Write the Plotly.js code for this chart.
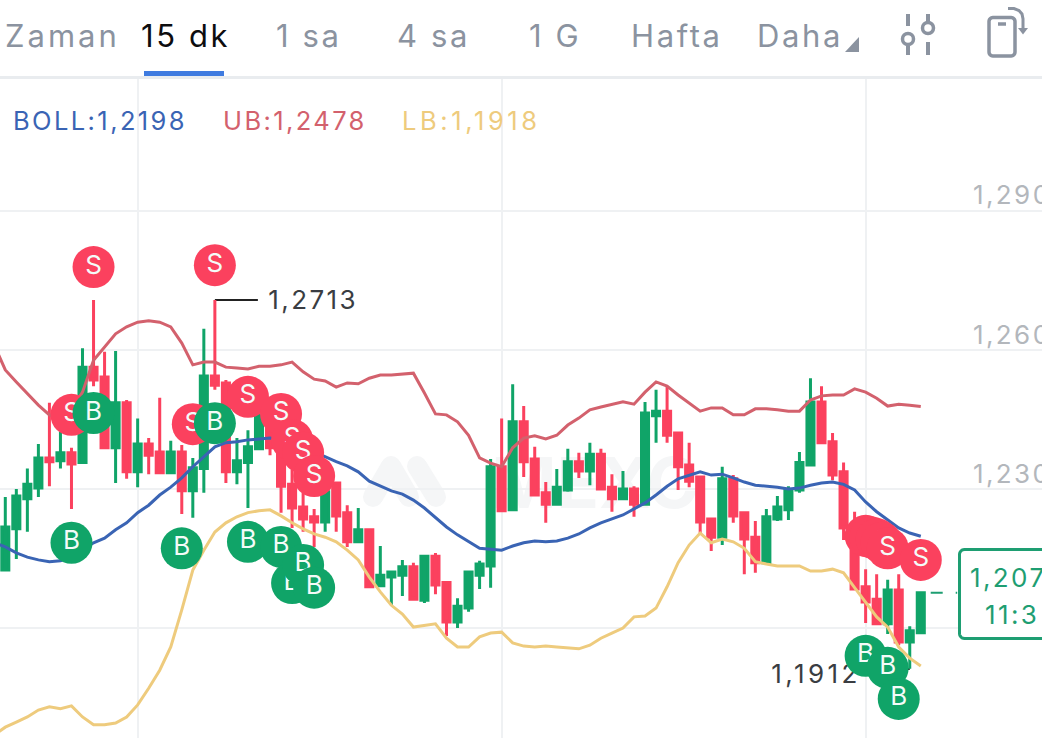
<!DOCTYPE html>
<html><head><meta charset="utf-8">
<script src="https://cdn.plot.ly/plotly-3.0.1.min.js"></script>
<style>html,body{margin:0;padding:0;background:#fff;overflow:hidden}#c{width:1042px;height:738px}</style>
</head><body><div id="c"></div>
<script>
const opens=[1.2125,1.2214,1.2279,1.2302,1.2367,1.2361,1.2378,1.2357,1.2563,1.2542,1.2389,1.2486,1.2337,1.2397,1.2380,1.2335,1.2380,1.2296,1.2344,1.2544,1.2529,1.2337,1.2357,1.2387,1.2481,1.2460,1.2310,1.2261,1.2240,1.2229,1.2313,1.2249,1.2186,1.2212,1.2091,1.2110,1.2114,1.2132,1.2060,1.2155,1.2098,1.2013,1.2043,1.2114,1.2134,1.2348,1.2255,1.2445,1.2365,1.2292,1.2267,1.2298,1.2359,1.2339,1.2375,1.2304,1.2279,1.2300,1.2267,1.2458,1.2468,1.2421,1.2352,1.2326,1.2235,1.2196,1.2322,1.2249,1.2196,1.2141,1.2235,1.2255,1.2298,1.2352,1.2488,1.2402,1.2337,1.2222,1.2089,1.2062,1.2009,1.2082,1.1970,1.1990];
const highs=[1.2283,1.2300,1.2344,1.2397,1.2486,1.2423,1.2389,1.2604,1.2708,1.2596,1.2598,1.2492,1.2452,1.2410,1.2497,1.2404,1.2395,1.2367,1.2646,1.2708,1.2535,1.2410,1.2427,1.2471,1.2492,1.2471,1.2341,1.2292,1.2257,1.2308,1.2313,1.2265,1.2259,1.2212,1.2177,1.2121,1.2147,1.2141,1.2155,1.2162,1.2098,1.2064,1.2123,1.2145,1.2365,1.2452,1.2526,1.2479,1.2391,1.2315,1.2343,1.2387,1.2378,1.2400,1.2387,1.2332,1.2339,1.2306,1.2488,1.2514,1.2522,1.2421,1.2400,1.2326,1.2235,1.2348,1.2330,1.2249,1.2231,1.2257,1.2285,1.2306,1.2380,1.2539,1.2522,1.2421,1.2357,1.2251,1.2127,1.2116,1.2104,1.2116,1.2004,1.2076];
const lows=[1.2125,1.2149,1.2208,1.2283,1.2306,1.2344,1.2257,1.2357,1.2522,1.2389,1.2313,1.2322,1.2304,1.2332,1.2335,1.2335,1.2246,1.2238,1.2292,1.2514,1.2313,1.2310,1.2259,1.2387,1.2373,1.2249,1.2216,1.2208,1.2175,1.2208,1.2208,1.2175,1.2186,1.2087,1.2091,1.2049,1.2069,1.2062,1.2054,1.2073,1.1983,1.2000,1.2035,1.2084,1.2087,1.2251,1.2255,1.2326,1.2287,1.2227,1.2267,1.2294,1.2324,1.2308,1.2300,1.2251,1.2279,1.2240,1.2267,1.2400,1.2400,1.2298,1.2304,1.2205,1.2166,1.2179,1.2227,1.2116,1.2119,1.2141,1.2231,1.2233,1.2292,1.2352,1.2400,1.2319,1.2190,1.2084,1.2011,1.2009,1.1987,1.1963,1.1912,1.1990];
const closes=[1.2218,1.2285,1.2310,1.2367,1.2359,1.2378,1.2354,1.2563,1.2535,1.2389,1.2486,1.2337,1.2397,1.2373,1.2335,1.2380,1.2296,1.2346,1.2544,1.2524,1.2337,1.2361,1.2391,1.2458,1.2389,1.2306,1.2259,1.2235,1.2229,1.2294,1.2242,1.2186,1.2212,1.2089,1.2114,1.2121,1.2132,1.2062,1.2155,1.2093,1.2013,1.2047,1.2121,1.2138,1.2348,1.2253,1.2445,1.2359,1.2287,1.2267,1.2304,1.2359,1.2339,1.2375,1.2300,1.2279,1.2300,1.2267,1.2464,1.2468,1.2416,1.2348,1.2317,1.2229,1.2196,1.2322,1.2242,1.2192,1.2141,1.2240,1.2261,1.2298,1.2357,1.2488,1.2400,1.2330,1.2216,1.2084,1.2056,1.2009,1.2082,1.1970,1.1994,1.2076];
// band values start one candle before the first visible candle
const bollMid=[1.2184,1.2175,1.2162,1.2153,1.2147,1.2143,1.2145,1.2153,1.2168,1.2184,1.2194,1.2212,1.2227,1.2249,1.2265,1.2287,1.2304,1.2324,1.2348,1.2369,1.2391,1.2400,1.2402,1.2406,1.2408,1.2410,1.2406,1.2400,1.2391,1.2380,1.2369,1.2359,1.2350,1.2337,1.2317,1.2306,1.2296,1.2289,1.2276,1.2259,1.2238,1.2218,1.2201,1.2186,1.2172,1.2170,1.2168,1.2177,1.2184,1.2188,1.2186,1.2188,1.2194,1.2203,1.2216,1.2227,1.2235,1.2244,1.2257,1.2270,1.2287,1.2306,1.2322,1.2330,1.2337,1.2330,1.2332,1.2324,1.2315,1.2308,1.2306,1.2304,1.2300,1.2302,1.2308,1.2313,1.2315,1.2310,1.2298,1.2272,1.2251,1.2233,1.2216,1.2205,1.2198];
const bollUp=[1.2611,1.2557,1.2531,1.2507,1.2481,1.2460,1.2449,1.2471,1.2509,1.2578,1.2606,1.2635,1.2650,1.2660,1.2663,1.2660,1.2650,1.2615,1.2568,1.2574,1.2574,1.2563,1.2561,1.2559,1.2565,1.2565,1.2568,1.2574,1.2553,1.2537,1.2533,1.2520,1.2529,1.2527,1.2539,1.2546,1.2546,1.2548,1.2550,1.2507,1.2462,1.2460,1.2445,1.2416,1.2367,1.2356,1.2348,1.2389,1.2410,1.2415,1.2408,1.2416,1.2438,1.2453,1.2471,1.2477,1.2483,1.2488,1.2483,1.2509,1.2531,1.2522,1.2503,1.2486,1.2468,1.2475,1.2475,1.2460,1.2460,1.2473,1.2473,1.2471,1.2468,1.2468,1.2492,1.2501,1.2503,1.2503,1.2516,1.2509,1.2496,1.2479,1.2483,1.2481,1.2478];
const bollLow=[1.1769,1.1786,1.1797,1.1808,1.1823,1.1830,1.1826,1.1832,1.1808,1.1791,1.1791,1.1795,1.1808,1.1834,1.1870,1.1909,1.1959,1.2039,1.2125,1.2168,1.2207,1.2227,1.2240,1.2249,1.2253,1.2255,1.2242,1.2227,1.2214,1.2203,1.2196,1.2186,1.2168,1.2147,1.2110,1.2078,1.2049,1.2030,1.2002,1.2006,1.2009,1.1978,1.1959,1.1959,1.1981,1.1989,1.1991,1.1968,1.1961,1.1959,1.1961,1.1959,1.1957,1.1955,1.1963,1.1978,1.1989,1.2000,1.2024,1.2026,1.2043,1.2089,1.2141,1.2179,1.2205,1.2184,1.2192,1.2186,1.2172,1.2143,1.2138,1.2134,1.2134,1.2134,1.2123,1.2123,1.2127,1.2119,1.2087,1.2056,1.2024,1.2002,1.1959,1.1935,1.1918];
const sellIdx=[6,8,17,19,22,25,26,27,28,78,78.45,79,79.45,80,83];
const sellPrice=[1.2460,1.2779,1.2440,1.2783,1.2499,1.2462,1.2406,1.2378,1.2328,1.2199,1.2196,1.2192,1.2184,1.2172,1.2147];
const buyIdx=[6,8,16,19,22,25,26,27,28,78,80,81];
const buyPrice=[1.2184,1.2464,1.2172,1.2442,1.2186,1.2175,1.2097,1.2136,1.2087,1.1940,1.1914,1.1847];
const tabLabels=["Zaman","15 dk","1 sa","4 sa","1 G","Hafta","Daha"];
const yTicks=[1.20,1.23,1.26,1.29];
const xTicks=[12,45,78];
const tickLabels=["1,290","1,260","1,230"];
const legendTexts=["BOLL:1,2198","UB:1,2478","LB:1,1918"];

const W=1042,H=738,F='Inter, "Noto Sans", sans-serif';
const GREEN='#10a468',RED='#fb415e',GRAY='#8b93a0',BOXG='#1e9e72';
const px=x=>x/W, py=y=>1-y/H;
const idx=Array.from({length:opens.length},(_,i)=>i);
const bandIdx=Array.from({length:bollMid.length},(_,i)=>i-1);
const traces=[];
traces.push({type:'candlestick',x:idx,open:opens,high:highs,low:lows,close:closes,whiskerwidth:0,
  increasing:{line:{color:GREEN,width:3},fillcolor:GREEN},decreasing:{line:{color:RED,width:3},fillcolor:RED},hoverinfo:'skip',showlegend:false});
const band=(y,c)=>({type:'scatter',mode:'lines',x:bandIdx,y:y,line:{color:c,width:3,shape:'linear'},hoverinfo:'skip',showlegend:false});
traces.push(band(bollUp,'#d3616d'),band(bollMid,'#3a64b4'),band(bollLow,'#eecb7d'));
traces.push({type:'scatter',mode:'text',x:[23.85],y:[1.2702],text:['1,2713'],textposition:'middle right',textfont:{family:F,size:26,color:'#3a3d42'},hoverinfo:'skip',showlegend:false});
traces.push({type:'scatter',mode:'text',x:[77.55],y:[1.1895],text:['1,1912'],textposition:'middle left',textfont:{family:F,size:26,color:'#3a3d42'},hoverinfo:'skip',showlegend:false});
const mark=(x,y,c,t)=>({type:'scatter',mode:'markers+text',x:[x],y:[y],text:[t],textposition:'middle center',cliponaxis:false,
  marker:{size:42,color:c,line:{width:0}},textfont:{family:F,size:26,color:'#f4fbf8'},hoverinfo:'skip',showlegend:false});
sellIdx.forEach((x,i)=>traces.push(mark(x,sellPrice[i],RED,'S')));
buyIdx.forEach((x,i)=>traces.push(mark(x,buyPrice[i],GREEN,'B')));

const poly=(d,o)=>Object.assign({type:'path',xref:'paper',yref:'paper',path:d,line:{width:0}},o);
const P=(pts,close)=>pts.map((p,i)=>(i?'L':'M')+px(p[0]).toFixed(5)+','+py(p[1]).toFixed(5)).join(' ')+(close?' Z':'');
const seg=(x0,y0,x1,y1,c,w,extra)=>Object.assign({type:'line',xref:'paper',yref:'paper',x0:px(x0),x1:px(x1),y0:py(y0),y1:py(y1),line:{color:c,width:w}},extra||{});
const circ=(cx,cy,r,c,w)=>({type:'circle',xref:'paper',yref:'paper',x0:px(cx-r),x1:px(cx+r),y0:py(cy-r),y1:py(cy+r),line:{color:c,width:w},fillcolor:'rgba(0,0,0,0)'});
const dot=(cx,cy,r,c)=>({type:'circle',xref:'paper',yref:'paper',layer:'below',x0:px(cx-r),x1:px(cx+r),y0:py(cy-r),y1:py(cy+r),line:{width:0},fillcolor:c});
const rrect=(x0,y0,x1,y1,r)=>{const a=[];const n=6;
  const arc=(cx,cy,s)=>{for(let k=0;k<=n;k++){const t=s+k/n*Math.PI/2;a.push([cx+r*Math.cos(t),cy+r*Math.sin(t)]);}};
  arc(x0+r,y0+r,Math.PI);arc(x1-r,y0+r,1.5*Math.PI);arc(x1-r,y1-r,0);arc(x0+r,y1-r,.5*Math.PI);return P(a,true);};
const WM='#f5f6f7';
const shapes=[
  // watermark
  seg(373,497,391,466,WM,20,{layer:'below'}),seg(391,466,409,497,WM,20,{layer:'below'}),seg(417,466,436,497,WM,20,{layer:'below'}),
  dot(373,497,10,WM),dot(391,466,10,WM),dot(409,497,10,WM),dot(417,466,10,WM),dot(436,497,10,WM),
  {type:'rect',xref:'paper',yref:'paper',layer:'below',x0:px(465),x1:px(725),y0:py(507),y1:py(453),line:{width:0},fillcolor:'rgba(0,0,0,0)',
    label:{text:'<b>MEXC</b>',font:{family:F,size:70,color:WM},textposition:'middle center'}},
  // price callouts
  {type:'line',xref:'x',yref:'paper',x0:19,x1:22.9,y0:py(300),y1:py(300),layer:'below',line:{color:'#222',width:2}},
  {type:'line',xref:'x',yref:'paper',x0:78,x1:82,y0:py(669),y1:py(669),layer:'below',line:{color:'#222',width:2}},
  // last price dash and box
  {type:'line',xref:'x',yref:'y',x0:83.9,x1:86.3,y0:closes[closes.length-1],y1:closes[closes.length-1],line:{color:BOXG,width:2,dash:'12px,13px'}},
  poly(rrect(959.5,549.5,1060,638.5,5),{fillcolor:'#fff',line:{color:BOXG,width:3}}),
  // header
  {type:'rect',xref:'paper',yref:'paper',x0:0,x1:1,y0:py(79),y1:1,line:{width:0},fillcolor:'#fff'},
  {type:'rect',xref:'paper',yref:'paper',x0:0,x1:1,y0:py(79),y1:py(76),line:{width:0},fillcolor:'#e9ecef'},
  {type:'rect',xref:'paper',yref:'paper',x0:px(144),x1:px(224),y0:py(76),y1:py(71),line:{width:0},fillcolor:'#3f7be0'},
  poly(P([[845,52],[859,37],[859,52]],true),{fillcolor:GRAY}),
  seg(908,14,908,26,GRAY,4),seg(908,46,908,55,GRAY,4),seg(928,14,928,22,GRAY,4),seg(928,42,928,55,GRAY,4),
  circ(908,39,5.5,GRAY,3.5),circ(928,28,5.5,GRAY,3.5),
  poly(rrect(989,17.5,1015,56,4),{fillcolor:'rgba(0,0,0,0)',line:{color:GRAY,width:3.5}}),
  seg(998,24,1006,24,GRAY,3.5),
  poly(P([[1008,8.5],[1014,8.5],[1019,10.5],[1022,14],[1023,19],[1023,30]]),{fillcolor:'rgba(0,0,0,0)',line:{color:GRAY,width:3}}),
  poly(P([[1018,28],[1028,28],[1023,34.5]],true),{fillcolor:GRAY})
];
const ann=(t,x,y,size,color,anchor)=>({text:t,xref:'paper',yref:'paper',x:px(x),y:py(y),xanchor:anchor||'left',yanchor:'middle',showarrow:false,
  font:{family:F,size:size,color:color},align:'left',borderpad:0});
const tabX=[4,140,275,396,528,630,756];
const annotations=tabLabels.map((t,i)=>ann(t,tabX[i],35.5,31,i==1?'#0d0d0f':GRAY));
annotations.push(ann(legendTexts[0],12,120,25.5,'#3a64b4'),ann(legendTexts[1],222,120,25.5,'#d3616d'),ann(legendTexts[2],401,120,25.5,'#eecb7d'));
tickLabels.forEach((t,i)=>annotations.push(ann(t,972,[195,334,473][i],26,'#b3b7bc')));
annotations.push(ann('1,207',969,577,26,BOXG),ann('11:3',984,614,26,BOXG));

Plotly.newPlot('c',traces,{
  width:W,height:H,margin:{l:0,r:0,t:0,b:0},paper_bgcolor:'#fff',plot_bgcolor:'rgba(0,0,0,0)',
  showlegend:false,hovermode:false,boxgap:0.36,boxgroupgap:0,dragmode:false,
  xaxis:{type:'linear',range:[-0.4805,93.99],tickvals:xTicks,showticklabels:false,ticks:'',gridcolor:'#eff1f3',gridwidth:2,zeroline:false,showline:false,rangeslider:{visible:false},fixedrange:true},
  yaxis:{range:[1.17626,1.33554],tickvals:yTicks,showticklabels:false,ticks:'',gridcolor:'#eff1f3',gridwidth:2,zeroline:false,showline:false,fixedrange:true},
  shapes:shapes,annotations:annotations
},{displayModeBar:false,staticPlot:true}).then(gd=>{
  const wide={'LB:1,1918':3.6,'1,1912':3.4,'Zaman':3};
  gd.querySelectorAll('svg text').forEach(t=>{
    const s=t.textContent;
    if(s.length>1 && s!=='MEXC') t.style.letterSpacing=(wide[s]||(tabLabels.includes(s)?2.6:2.4))+'px';
  });
});
</script></body></html>
